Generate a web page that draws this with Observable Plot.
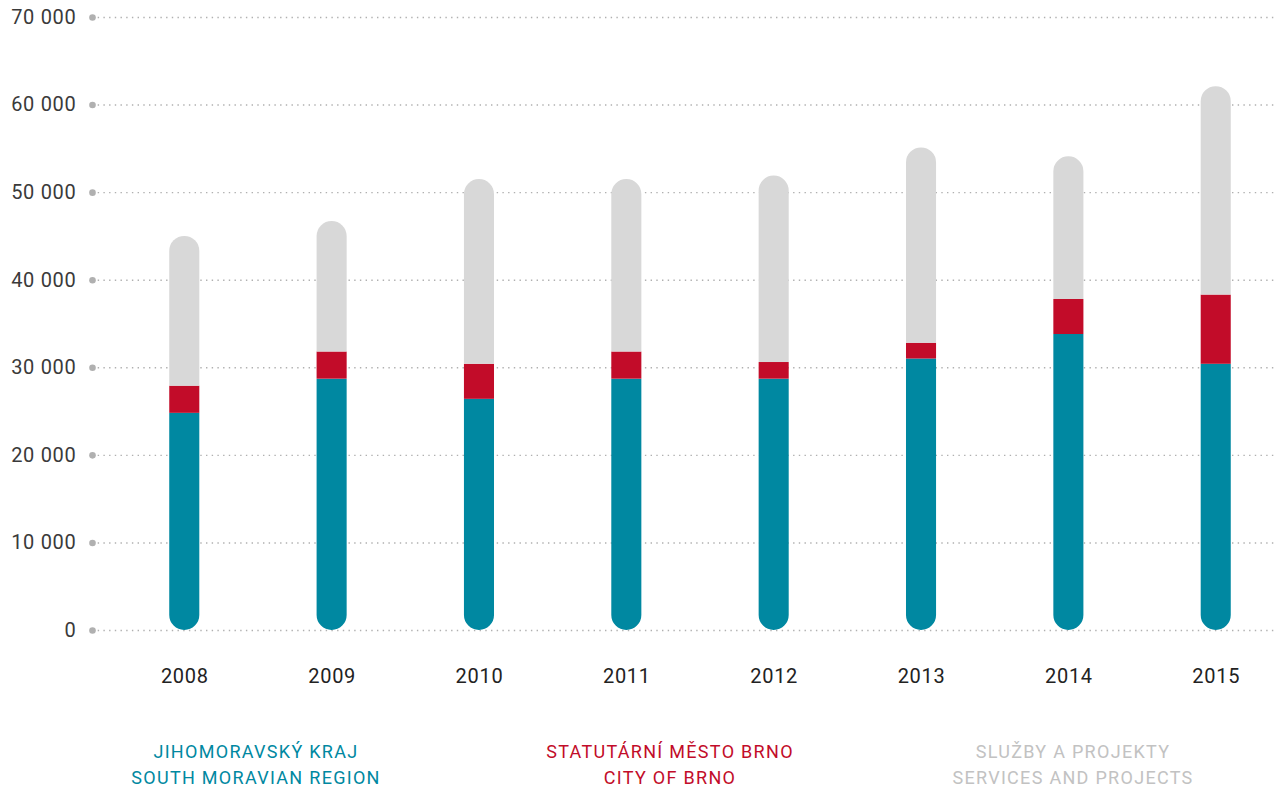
<!DOCTYPE html>
<html>
<head>
<meta charset="utf-8">
<script src="https://cdn.jsdelivr.net/npm/d3@7"></script>
<script src="https://cdn.jsdelivr.net/npm/@observablehq/plot@0.6"></script>
<style>
  html, body { margin: 0; padding: 0; background: #fff; }
  body { width: 1277px; height: 789px; overflow: hidden; font-family: Roboto, "Noto Sans", sans-serif; }
  #legend { position: relative; height: 84px; }
  .lg { position: absolute; top: 34px; transform: translateX(-50%); text-align: center; font-size: 18px; line-height: 26px; letter-spacing: 1.3px; white-space: nowrap; }
  svg text { letter-spacing: 0.7px; }
</style>
</head>
<body>
<div id="chart"></div>
<div id="legend"></div>
<script>
const years = ["2008", "2009", "2010", "2011", "2012", "2013", "2014", "2015"];
const regionValues = [24800, 28700, 26400, 28700, 28700, 31000, 33800, 30400];
const cityValues = [3100, 3100, 4000, 3100, 1900, 1800, 4000, 7900];
const servicesValues = [17100, 14900, 21100, 19700, 21300, 22300, 16300, 23800];
const yTicks = [0, 10000, 20000, 30000, 40000, 50000, 60000, 70000];
const seriesNames = [
  ["JIHOMORAVSKÝ KRAJ", "SOUTH MORAVIAN REGION"],
  ["STATUTÁRNÍ MĚSTO BRNO", "CITY OF BRNO"],
  ["SLUŽBY A PROJEKTY", "SERVICES AND PROJECTS"]
];
const colors = ["#0088a1", "#c20c29", "#d8d8d8"];
const legendTextColors = ["#0088a1", "#c20c29", "#c2c2c2"];

const rows = years.map((year, i) => {
  const a = regionValues[i], b = cityValues[i], c = servicesValues[i];
  return {year, region: a, city: b, services: c, cityTop: a + b, total: a + b + c};
});

const ver = (Plot.version || "0.6.0").split(".").map(Number);
const hasCornerRadii = ver[0] > 0 || ver[1] > 6 || (ver[1] === 6 && ver[2] >= 12);

let barMarks;
if (hasCornerRadii) {
  barMarks = [
    Plot.barY(rows, {x: "year", y1: 0, y2: "region", fill: colors[0], ry2: 15}),
    Plot.barY(rows, {x: "year", y1: "region", y2: "cityTop", fill: colors[1]}),
    Plot.barY(rows, {x: "year", y1: "cityTop", y2: "total", fill: colors[2], ry1: 15})
  ];
} else {
  barMarks = [
    Plot.barY(rows, {x: "year", y1: 0, y2: "total", fill: colors[2], rx: 15, ry: 15}),
    Plot.barY(rows, {x: "year", y1: 0, y2: "cityTop", fill: colors[0], rx: 15, ry: 15}),
    Plot.barY(rows, {x: "year", y1: "region", y2: "cityTop", fill: colors[1]})
  ];
}

const chart = Plot.plot({
  width: 1277,
  height: 705,
  marginTop: 17,
  marginBottom: 75,
  marginLeft: 92,
  marginRight: 0,
  style: {fontFamily: "Roboto, 'Noto Sans', sans-serif", background: "#fff"},
  x: {type: "band", domain: years, range: [110.6, 1289.4], paddingInner: 0.796, paddingOuter: 0.398, align: 0.5, round: false, label: null},
  y: {domain: [0, 70000], label: null},
  marks: [
    Plot.ruleY(yTicks, {y: d => d, stroke: "#b0b0b0", strokeWidth: 1.4, strokeDasharray: "1.4,4.3"}),
    Plot.dot(yTicks, {y: d => d, frameAnchor: "left", r: 3.3, fill: "#b0b0b0", stroke: null}),
    ...barMarks,
    Plot.axisY(yTicks, {
      tickSize: 0, tickPadding: 16, fontSize: 20, fill: "#3a3a3a", label: null,
      tickFormat: d => d3.format(",")(d).replace(",", " ")
    }),
    Plot.axisX({tickSize: 0, tickPadding: 38, fontSize: 20, fill: "#222", label: null})
  ]
});
document.getElementById("chart").appendChild(chart);

const legend = document.getElementById("legend");
const centers = [256, 670, 1073];
seriesNames.forEach((lines, i) => {
  const div = document.createElement("div");
  div.className = "lg";
  div.style.left = centers[i] + "px";
  div.style.color = legendTextColors[i];
  div.innerHTML = lines.join("<br>");
  legend.appendChild(div);
});
</script>
</body>
</html>
